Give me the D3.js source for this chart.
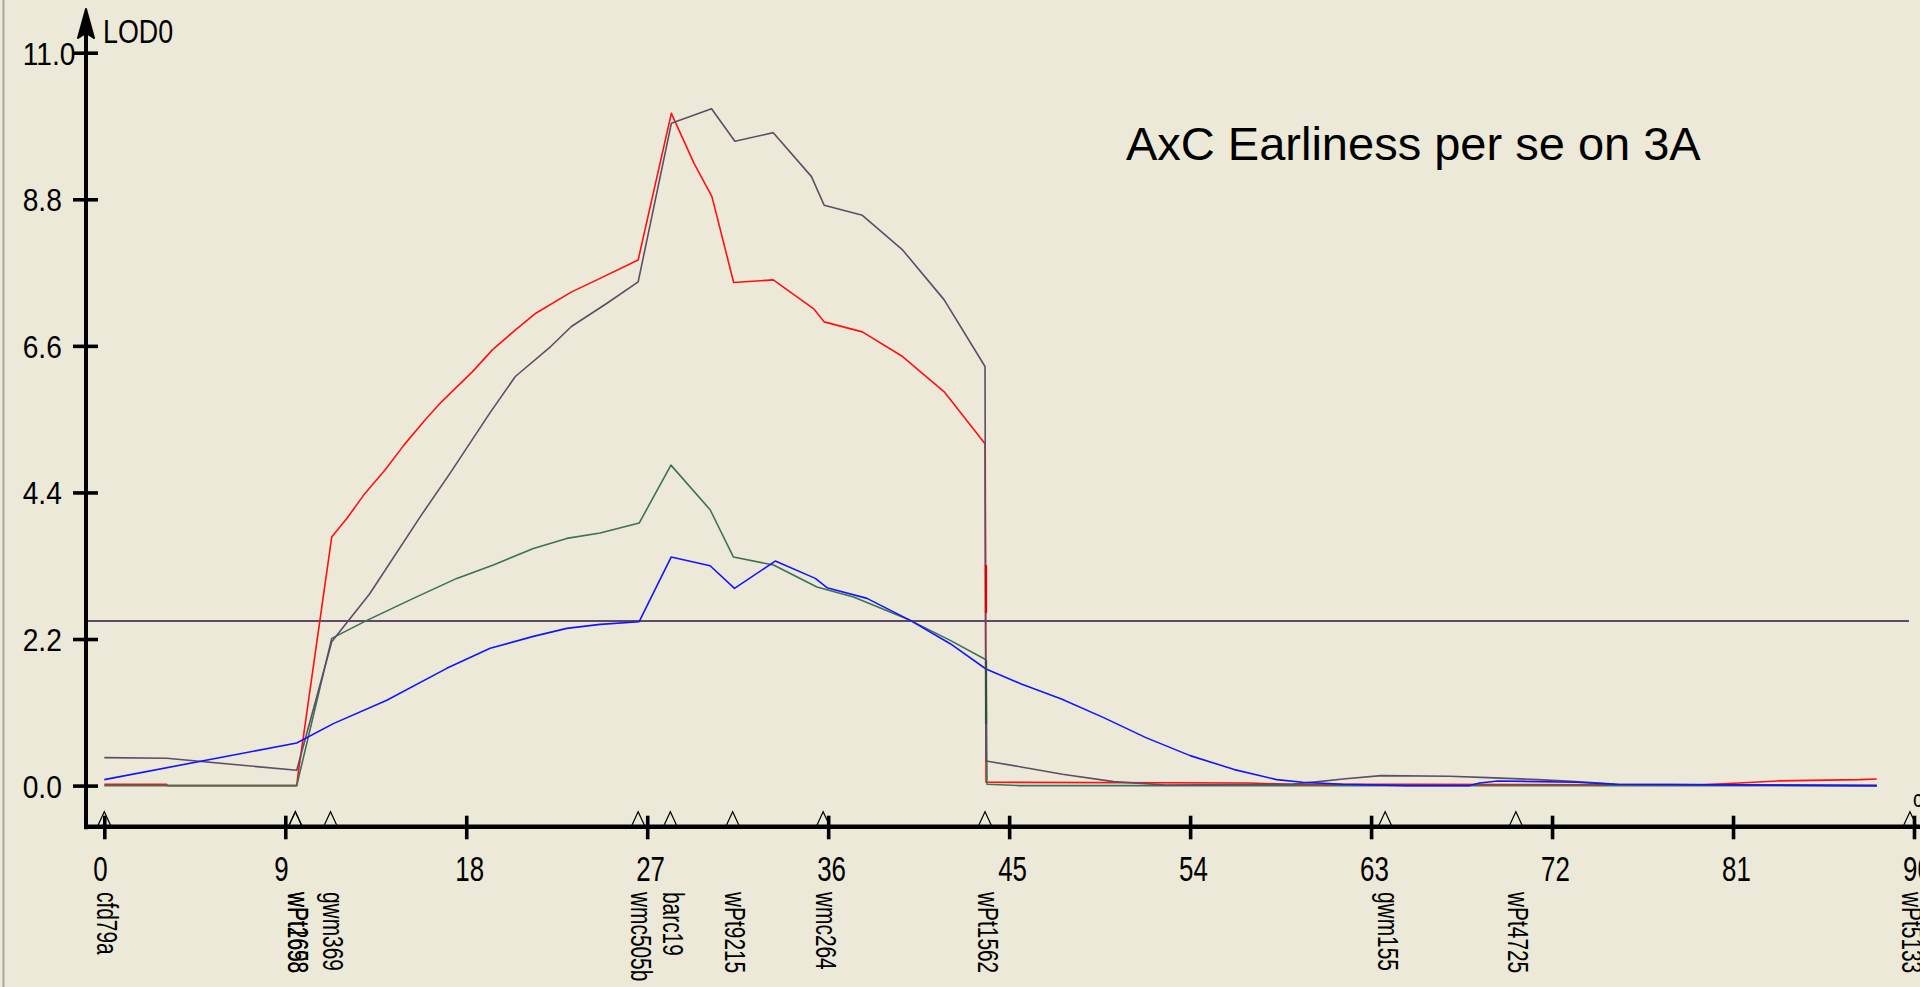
<!DOCTYPE html>
<html>
<head>
<meta charset="utf-8">
<script src="https://cdn.jsdelivr.net/npm/d3@7"></script>
<style>
  html, body { margin: 0; padding: 0; background: #ECE9D8; overflow: hidden; }
  svg { display: block; }
</style>
</head>
<body>
<svg id="chart" width="1920" height="987"></svg>
<script>
// ---- data -------------------------------------------------------------
// LOD profiles along chromosome 3A, as [position (cM), LOD] pairs
const lodRed = [
  [0, 0.02], [3.1, 0.02], [3.15, 0], [9.57, 0], [9.65, 0.2], [11.31, 3.73],
  [12.06, 4.01], [12.9, 4.36], [13.97, 4.74], [14.9, 5.11], [15.96, 5.49],
  [16.77, 5.76], [18.3, 6.21], [19.3, 6.54], [20.45, 6.84], [21.46, 7.09],
  [23.24, 7.41], [24.5, 7.59], [26.55, 7.89], [28.2, 10.09], [29.33, 9.34],
  [30.22, 8.84], [31.3, 7.55], [33.27, 7.59], [35.3, 7.15], [35.8, 6.96],
  [37.7, 6.81], [39.7, 6.44], [41.77, 5.91], [43.8, 5.13], [43.85, 0.05],
  [56.9, 0.04], [59, 0.02], [64.8, 0.02], [79.2, 0.01], [81.3, 0.04],
  [83.2, 0.07], [87.3, 0.09], [88.15, 0.1]
];
const lodPurple = [
  [0, 0.42], [3.1, 0.41], [9.57, 0.23], [11.31, 2.16], [13.2, 2.88],
  [15.7, 4.03], [17.2, 4.69], [19.17, 5.59], [20.44, 6.14], [22.2, 6.59],
  [23.23, 6.89], [25.0, 7.24], [26.55, 7.56], [28.2, 9.94], [30.2, 10.16],
  [31.36, 9.67], [33.27, 9.80], [35.17, 9.14], [35.8, 8.71], [37.7, 8.56],
  [39.7, 8.04], [41.77, 7.29], [43.8, 6.29], [43.85, 0.37], [45.6, 0.28],
  [47.65, 0.17], [50.2, 0.06], [52.8, 0.01], [59, 0.02], [60.4, 0.06],
  [61.6, 0.1], [63.5, 0.15], [66.9, 0.14], [68.8, 0.12], [71.3, 0.09],
  [73.2, 0.06], [75.3, 0.02], [88.15, 0.0]
];
const lodGreen = [
  [0, 0], [9.57, 0], [11.31, 2.21], [13.06, 2.48], [15.37, 2.81],
  [17.53, 3.11], [19.35, 3.31], [21.34, 3.56], [23.0, 3.71], [24.66, 3.79],
  [26.6, 3.94], [28.18, 4.81], [30.13, 4.14], [31.29, 3.43], [33.28, 3.31],
  [35.44, 2.98], [37.26, 2.83], [40.08, 2.48], [42.07, 2.18], [43.85, 1.89],
  [43.9, 0.02], [45.5, 0.0], [88.15, 0.0]
];
const lodBlue = [
  [0, 0.09], [9.57, 0.64], [11.39, 0.93], [14.05, 1.28], [17.03, 1.76],
  [19.19, 2.06], [21.34, 2.24], [23.0, 2.36], [24.66, 2.42], [26.6, 2.46],
  [28.19, 3.43], [30.13, 3.30], [31.34, 2.96], [33.37, 3.37], [35.36, 3.11],
  [35.94, 2.97], [37.93, 2.81], [40.08, 2.48], [42.07, 2.13], [43.85, 1.75],
  [45.57, 1.53], [47.6, 1.30], [49.7, 1.02], [51.8, 0.72], [54.0, 0.45],
  [56.2, 0.24], [58.3, 0.09], [59.6, 0.05], [61.6, 0.02], [64.8, 0.0],
  [67.9, 0.0], [68.4, 0.04], [69.3, 0.07], [73.2, 0.05], [75.1, 0.02],
  [88.15, 0.0]
];
// short overdrawn pieces of the vertical drop at wPt1562
const redJump = [[43.85, 3.31], [43.85, 2.59]];
const greenJump = [[43.85, 1.88], [43.85, 0.93]];

// significance threshold
const threshold = 2.47;

// markers on the linkage map
const markerNames = ["cfd79a", "wPt2698", "wPt1658", "gwm369", "wmc505b", "barc19",
  "wPt9215", "wmc264", "wPt1562", "gwm155", "wPt4725", "wPt5133"];
const markerPos = [0, 9.5, 9.5, 11.25, 26.55, 28.15, 31.25, 35.75, 43.8, 63.7, 70.2, 89.8];

// axis ticks
const xTicks = [0, 9, 18, 27, 36, 45, 54, 63, 72, 81, 90];
const yTicks = [0, 2.2, 4.4, 6.6, 8.8, 11.0];

const titleText = "AxC Earliness per se on 3A";
const yLabel = "LOD0";
const xLabel = "cM";

// ---- layout -----------------------------------------------------------
const W = 1920, H = 987;
const axisX = 86;        // vertical axis position
const axisY = 826.7;     // horizontal axis position
const FONT = "'Liberation Sans', Arial, sans-serif";

const svg = d3.select("#chart");
svg.append("rect").attr("width", W).attr("height", H).attr("fill", "#ECE9D8");
// window frame edge on the left
svg.append("line").attr("x1", 3.5).attr("x2", 3.5).attr("y1", 0).attr("y2", H)
  .attr("stroke", "#A8A69D").attr("stroke-width", 2);

const x = d3.scaleLinear().domain([0, 90]).range([104.3, 1914]);
const y = d3.scaleLinear().domain([0, 11]).range([785.6, 52.7]);

// ---- threshold --------------------------------------------------------
svg.append("line")
  .attr("x1", axisX).attr("x2", x(89.75))
  .attr("y1", y(threshold)).attr("y2", y(threshold))
  .attr("stroke", "#5C4A68").attr("stroke-width", 2);

// ---- LOD curves -------------------------------------------------------
const line = d3.line().x(d => x(d[0])).y(d => y(d[1]));
const series = [
  { data: lodRed, color: "#FF1010", w: 1.6 },
  { data: lodGreen, color: "#3E6F58", w: 1.6 },
  { data: lodPurple, color: "#5F4C66", w: 1.6 },
  { data: lodBlue, color: "#1414FF", w: 1.6 },
  { data: redJump, color: "#E00000", w: 2.2 },
  { data: greenJump, color: "#2F4D42", w: 2.2 }
];
svg.append("g").selectAll("path").data(series).join("path")
  .attr("d", d => line(d.data))
  .attr("fill", "none")
  .attr("stroke", d => d.color)
  .attr("stroke-width", d => d.w)
  .attr("stroke-linejoin", "round");

// ---- y axis -----------------------------------------------------------
const yAxis = d3.axisLeft(y).tickValues(yTicks).tickFormat(d3.format(".1f"))
  .tickSizeInner(13).tickSizeOuter(0);
const gy = svg.append("g").attr("transform", `translate(${axisX},0)`).call(yAxis);
gy.select(".domain").remove();
gy.selectAll(".tick line").attr("x1", 12).attr("stroke", "#000").attr("stroke-width", 3.6);
gy.selectAll(".tick text")
  .attr("x", 0).attr("dy", "0.36em")
  .attr("text-anchor", "start")
  .attr("transform", `translate(${22.7 - axisX},0) scale(0.88,1)`)
  .style("font-family", FONT).style("font-size", "32px").attr("fill", "#000");

svg.append("line").attr("x1", axisX).attr("x2", axisX).attr("y1", 14).attr("y2", axisY + 2.5)
  .attr("stroke", "#000").attr("stroke-width", 4);
// arrow head
svg.append("path")
  .attr("d", `M${axisX},9 L${axisX - 8},38 L${axisX},33 L${axisX + 8},38 Z`)
  .attr("fill", "#000").attr("stroke", "#000").attr("stroke-width", 2).attr("stroke-linejoin", "round");

svg.append("text").attr("transform", "translate(103,42.7) scale(0.79,1)")
  .style("font-family", FONT).style("font-size", "34px").attr("fill", "#000")
  .text(yLabel);

// ---- x axis -----------------------------------------------------------
const xAxis = d3.axisBottom(x).tickValues(xTicks).tickFormat(d3.format("d"))
  .tickSizeInner(12.6).tickSizeOuter(0);
const gx = svg.append("g").attr("transform", `translate(0,${axisY})`).call(xAxis);
gx.select(".domain").remove();
gx.selectAll(".tick line").attr("y1", -11).attr("stroke", "#000").attr("stroke-width", 3.6);
gx.selectAll(".tick text")
  .attr("y", 0).attr("dy", null)
  .attr("text-anchor", "start")
  .attr("transform", "translate(-11.5,54) scale(0.74,1)")
  .style("font-family", FONT).style("font-size", "35px").attr("fill", "#000");

svg.append("line").attr("x1", axisX - 2).attr("x2", W).attr("y1", axisY).attr("y2", axisY)
  .attr("stroke", "#000").attr("stroke-width", 4.5);

svg.append("text").attr("transform", `translate(${x(90) - 1},807) scale(0.8,1)`)
  .style("font-family", FONT).style("font-size", "24px").attr("fill", "#000")
  .text(xLabel);

// ---- markers ----------------------------------------------------------
const markers = markerNames.map((n, i) => ({ name: n, pos: markerPos[i] }));
const gm = svg.append("g");
gm.selectAll("path").data(markers).join("path")
  .attr("d", d => `M${x(d.pos) - 6.5},${axisY - 1} L${x(d.pos)},${axisY - 15} L${x(d.pos) + 6.5},${axisY - 1}`)
  .attr("fill", "none").attr("stroke", "#000").attr("stroke-width", 1.2);
gm.selectAll("text").data(markers).join("text")
  .attr("transform", d => `translate(${x(d.pos) - 7.5},892) rotate(90) scale(0.72,1)`)
  .style("font-family", FONT).style("font-size", "29px").attr("fill", "#000")
  .text(d => d.name);

// ---- title ------------------------------------------------------------
svg.append("text").attr("x", 1126).attr("y", 160)
  .style("font-family", FONT).style("font-size", "47px").attr("fill", "#000")
  .text(titleText);
</script>
</body>
</html>
